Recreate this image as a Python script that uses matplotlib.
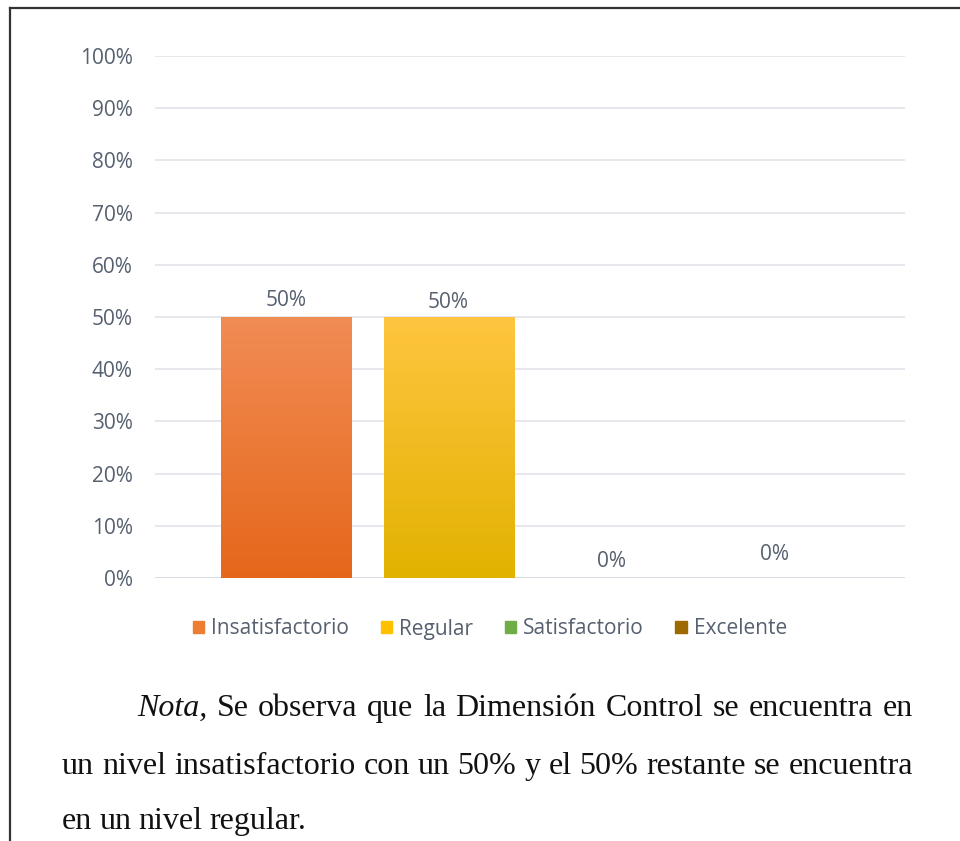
import numpy as np
import matplotlib
matplotlib.use("Agg")
import matplotlib.pyplot as plt
from matplotlib.colors import LinearSegmentedColormap
from matplotlib.lines import Line2D

series = ["Insatisfactorio", "Regular", "Satisfactorio", "Excelente"]
values = [50, 50, 0, 0]
label_lift = [4, 3, 4, 9]  # points above bar top for the value labels
colors = ["#ED7D31", "#FFC000", "#70AD47", "#9E6A00"]
grad_top = ["#F18C55", "#FFC540", "#8CC168", "#B07C10"]
grad_bot = ["#E5671A", "#E2B200", "#5E9A38", "#8A5A00"]
yticks = np.arange(0, 101, 10)

caption = [
    ["Nota,", "Se", "observa", "que", "la", "Dimensión", "Control", "se", "encuentra", "en"],
    ["un", "nivel", "insatisfactorio", "con", "un", "50%", "y", "el", "50%", "restante", "se", "encuentra"],
    ["en", "un", "nivel", "regular."],
]

W, H = 960, 841
fig = plt.figure(figsize=(W / 100, H / 100), dpi=100)
ax = fig.add_axes([155 / W, 1 - 578 / H, 750 / W, 522 / H])

tick_col = "#56606F"
ui = "Open Sans"
fs = 15
x = np.arange(len(series))
bars = ax.bar(x, values, width=0.8, color=colors, zorder=2)

# gradient fill clipped to each bar
for b, top, bot in zip(bars, grad_top, grad_bot):
    if b.get_height() <= 0:
        continue
    cm = LinearSegmentedColormap.from_list("g", [bot, top])
    x0, y0 = b.get_x(), b.get_y()
    im = ax.imshow(np.linspace(0, 1, 256).reshape(-1, 1), cmap=cm, aspect="auto",
                   origin="lower", extent=[x0, x0 + b.get_width(), y0, y0 + b.get_height()],
                   zorder=3)
    im.set_clip_path(b)

for xi, v, lift in zip(x, values, label_lift):
    ax.annotate(f"{v}%", (xi, v), xytext=(0, lift), textcoords="offset points",
                ha="center", va="bottom", fontsize=fs, color=tick_col, family=ui)

ax.set_xlim(-0.804, 3.804)
ax.set_ylim(0, 100)
ax.set_yticks(yticks)
ax.set_yticklabels([f"{t}%" for t in yticks], fontsize=fs, color=tick_col, family=ui)
ax.set_xticks([])
ax.tick_params(axis="y", length=0, pad=16)
ax.grid(axis="y", color="#E1E4EA", linewidth=1.2, zorder=0)
ax.set_axisbelow(True)
for s in ax.spines.values():
    s.set_visible(False)
ax.axhline(0, color="#D5DAE2", linewidth=1.2, zorder=1)

handles = [plt.Rectangle((0, 0), 1, 1, color=c) for c in colors]
leg = fig.legend(handles, series, loc="center", bbox_to_anchor=(490 / W, 1 - 629 / H),
                 ncol=4, frameon=False, handlelength=0.55, handleheight=0.55,
                 handletextpad=0.35, columnspacing=1.5,
                 prop={"family": ui, "size": fs}, labelcolor=tick_col)
for t in leg.get_texts():
    t.set_va("baseline")

# page border
fig.add_artist(Line2D([10 / W, 1], [1 - 8 / H, 1 - 8 / H], transform=fig.transFigure,
                      color="#333333", linewidth=1.6))
fig.add_artist(Line2D([10 / W, 10 / W], [1 - 8 / H, 0], transform=fig.transFigure,
                      color="#333333", linewidth=1.6))

# justified caption
fig.canvas.draw()
renderer = fig.canvas.get_renderer()
lines_geom = [(137, 913, 716, True), (62, 913, 774, True), (62, 913, 829, False)]
for words, (x_l, x_r, base, justify) in zip(caption, lines_geom):
    texts = []
    for w in words:
        style = "italic" if w == "Nota," else "normal"
        t = fig.text(0, 1 - base / H, w, fontsize=23, family="Liberation Serif",
                     style=style, color="#111111", va="baseline", ha="left")
        texts.append(t)
    widths = [t.get_window_extent(renderer).width for t in texts]
    if justify and len(texts) > 1:
        gap = (x_r - x_l - sum(widths)) / (len(texts) - 1)
    else:
        gap = 7.0
    cur = x_l
    for t, wd in zip(texts, widths):
        t.set_x(cur / W)
        cur += wd + gap

fig.savefig("out.png", dpi=100)
